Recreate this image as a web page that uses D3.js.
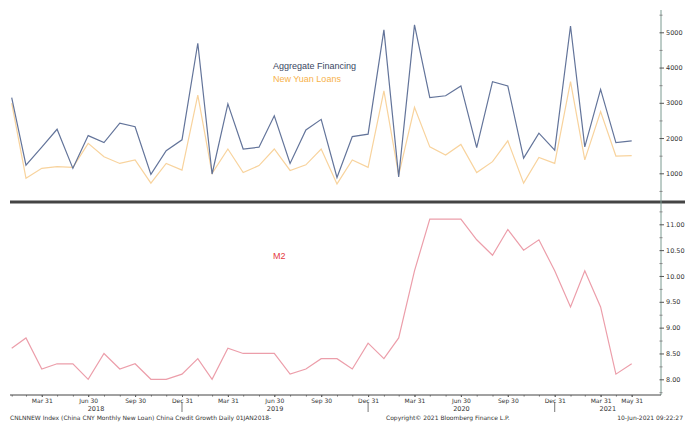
<!DOCTYPE html>
<html lang="en">
<head>
<meta charset="UTF-8">
<title>China Credit Growth</title>
<script src="https://d3js.org/d3.v7.min.js"></script>
<style>
  body { margin: 0; background: #fff; }
  svg { display: block; }
  .axis text { font-family: "DejaVu Sans", sans-serif; fill: #333; }
</style>
</head>
<body>
<script>
    // monthly data, Jan 2018 .. May 2021 (month ends)
    var months = d3.timeMonth.range(new Date(2018, 0, 1), new Date(2021, 5, 1))
        .map(function(d) { return d3.timeDay.offset(d3.timeMonth.offset(d, 1), -1); });

    // Aggregate Financing, CNY bn
    var aggFinancing = [3150, 1230, 1740, 2250, 1140, 2070, 1870, 2420, 2320, 970, 1640, 1950,
                        4690, 980, 2970, 1690, 1740, 2630, 1280, 2230, 2530, 880, 2040, 2110,
                        5070, 900, 5210, 3150, 3200, 3480, 1730, 3600, 3480, 1430, 2140, 1660,
                        5180, 1750, 3380, 1870, 1920];
    // New Yuan Loans, CNY bn
    var newLoans = [2990, 860, 1140, 1190, 1170, 1850, 1470, 1280, 1380, 720, 1280, 1090,
                    3220, 1000, 1690, 1020, 1220, 1690, 1080, 1240, 1690, 700, 1380, 1170,
                    3340, 950, 2870, 1750, 1520, 1820, 1020, 1330, 1920, 720, 1450, 1280,
                    3600, 1380, 2750, 1490, 1500];
    // M2 growth, % y/y
    var m2 = [8.6, 8.8, 8.2, 8.3, 8.3, 8.0, 8.5, 8.2, 8.3, 8.0, 8.0, 8.1,
              8.4, 8.0, 8.6, 8.5, 8.5, 8.5, 8.1, 8.2, 8.4, 8.4, 8.2, 8.7,
              8.4, 8.8, 10.1, 11.1, 11.1, 11.1, 10.7, 10.4, 10.9, 10.5, 10.7, 10.1,
              9.4, 10.1, 9.4, 8.1, 8.3];

    var topTicks = [1000, 2000, 3000, 4000, 5000];
    var topMinor = [500, 1500, 2500, 3500, 4500, 5500];
    var botTicks = [8, 8.5, 9, 9.5, 10, 10.5, 11];
    var botMinor = [7.75, 8.25, 8.75, 9.25, 9.75, 10.25, 10.75, 11.25];
    var xLabelDates = ['2018-03-31', '2018-06-30', '2018-09-30', '2018-12-31',
                       '2019-03-31', '2019-06-30', '2019-09-30', '2019-12-31',
                       '2020-03-31', '2020-06-30', '2020-09-30', '2020-12-31',
                       '2021-03-31', '2021-05-31'];
    var years = ['2018', '2019', '2020', '2021'];

    var W = 700, H = 430;
    var axisX = 661, left = 10;

    var svg = d3.select('body').append('svg')
        .attr('width', W)
        .attr('height', H);

    var parse = d3.timeParse('%Y-%m-%d');

    var x = d3.scaleTime()
        .domain([months[0], months[months.length - 1]])
        .range([11.7, 631.7]);

    var yTop = d3.scaleLinear().domain([1000, 5000]).range([173.3, 32.3]);
    var yBot = d3.scaleLinear().domain([8, 11]).range([379.3, 224.3]);

    // lines
    function drawLine(values, yScale, color) {
        svg.append('path')
            .datum(values)
            .attr('fill', 'none')
            .attr('stroke', color)
            .attr('stroke-width', 1.2)
            .attr('stroke-linejoin', 'miter')
            .attr('d', d3.line()
                .x(function(d, i) { return x(months[i]); })
                .y(function(d) { return yScale(d); }));
    }
    drawLine(newLoans, yTop, '#f8d39d');
    drawLine(aggFinancing, yTop, '#63749a');
    drawLine(m2, yBot, '#ec9eaa');

    // legend texts
    svg.append('text').attr('x', 273).attr('y', 69)
        .style('font', '9px "Liberation Sans", Arial, sans-serif')
        .attr('fill', '#3a4662').text('Aggregate Financing');
    svg.append('text').attr('x', 273).attr('y', 82)
        .style('font', '9px "Liberation Sans", Arial, sans-serif')
        .attr('fill', '#f7b24a').text('New Yuan Loans');
    svg.append('text').attr('x', 273).attr('y', 259)
        .style('font', '9px "Liberation Sans", Arial, sans-serif')
        .attr('fill', '#e53a42').text('M2');

    // separator between the panels
    svg.append('line')
        .attr('x1', left).attr('x2', 685)
        .attr('y1', 202).attr('y2', 202)
        .attr('stroke', '#444').attr('stroke-width', 3);

    // right axis line
    svg.append('line')
        .attr('x1', axisX).attr('x2', axisX)
        .attr('y1', 10).attr('y2', 395)
        .attr('stroke', '#7a9a90').attr('stroke-width', 1);

    function rightAxis(scale, major, minor, fmt) {
        var g = svg.append('g').attr('class', 'axis')
            .attr('transform', 'translate(' + axisX + ',0)');
        g.call(d3.axisRight(scale).tickValues(major).tickSize(3).tickPadding(2).tickFormat(fmt));
        g.selectAll('.tick line').attr('x1', -1.5).attr('stroke', '#555');
        g.selectAll('.tick text').style('font-size', '6.5px');
        g.select('.domain').remove();

        var gm = svg.append('g').attr('transform', 'translate(' + axisX + ',0)');
        gm.call(d3.axisRight(scale).tickValues(minor).tickSize(1.5).tickFormat(''));
        gm.selectAll('.tick line').attr('x1', -1.5).attr('stroke', '#888');
        gm.select('.domain').remove();
    }
    rightAxis(yTop, topTicks, topMinor, d3.format('d'));
    rightAxis(yBot, botTicks, botMinor, d3.format('.2f'));

    // bottom time axis
    var baseY = 395;
    svg.append('line')
        .attr('x1', left).attr('x2', axisX)
        .attr('y1', baseY).attr('y2', baseY)
        .attr('stroke', '#444').attr('stroke-width', 1);

    var gx = svg.append('g').attr('class', 'axis')
        .attr('transform', 'translate(0,' + baseY + ')');
    gx.call(d3.axisBottom(x).tickValues(xLabelDates.map(parse))
        .tickSize(2).tickPadding(2).tickFormat(d3.timeFormat('%b %d')));
    gx.select('.domain').remove();
    gx.selectAll('.tick line').attr('stroke', '#444');
    gx.selectAll('.tick text').style('font-size', '6px');

    var gxm = svg.append('g').attr('transform', 'translate(0,' + baseY + ')');
    gxm.call(d3.axisBottom(x).tickValues(months).tickSize(1.5).tickFormat(''));
    gxm.select('.domain').remove();
    gxm.selectAll('.tick line').attr('stroke', '#666');

    // year separators and labels
    var yearEnds = [parse('2018-12-31'), parse('2019-12-31'), parse('2020-12-31')];
    svg.selectAll('.yearSep').data(yearEnds).enter().append('line')
        .attr('x1', function(d) { return x(d); })
        .attr('x2', function(d) { return x(d); })
        .attr('y1', 402).attr('y2', 412)
        .attr('stroke', '#555').attr('stroke-width', 0.8);

    var bounds = [left].concat(yearEnds.map(x)).concat([axisX]);
    svg.selectAll('.yearLbl').data(years).enter().append('text')
        .attr('x', function(d, i) { return (bounds[i] + bounds[i + 1]) / 2; })
        .attr('y', 410.5)
        .attr('text-anchor', 'middle')
        .style('font', '6.5px "DejaVu Sans", sans-serif')
        .attr('fill', '#333')
        .text(function(d) { return d; });

    // footer
    var foot = '6px "DejaVu Sans", sans-serif';
    svg.append('text').attr('x', 10).attr('y', 420)
        .style('font', foot).attr('fill', '#333')
        .text('CNLNNEW Index (China CNY Monthly New Loan) China Credit Growth  Daily 01JAN2018-');
    svg.append('text').attr('x', 386).attr('y', 420)
        .style('font', foot).attr('fill', '#333')
        .text('Copyright\u00a9 2021 Bloomberg Finance L.P.');
    svg.append('text').attr('x', 683).attr('y', 420)
        .attr('text-anchor', 'end')
        .style('font', foot).attr('fill', '#333')
        .text('10-Jun-2021 09:22:27');
</script>
</body>
</html>
